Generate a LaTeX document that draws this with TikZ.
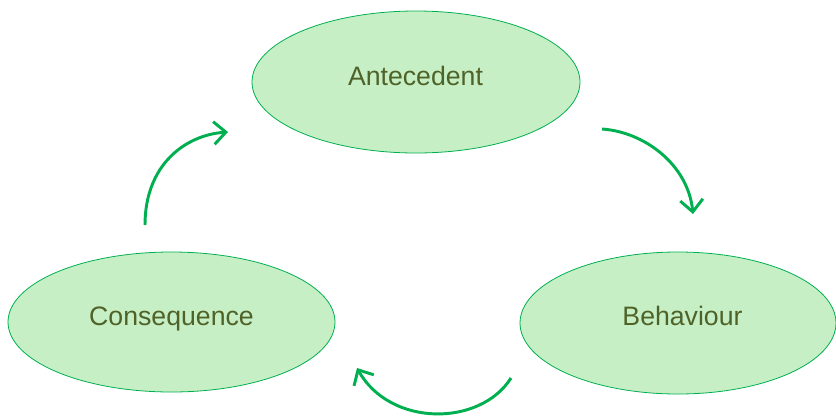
\documentclass[tikz,border=0pt]{standalone}
\usepackage{fontspec}
\setmainfont{Liberation Sans}
\usetikzlibrary{shapes.geometric,arrows.meta}
\definecolor{ellfill}{HTML}{C6EFC6}
\definecolor{ellline}{HTML}{00B050}
\definecolor{txtcol}{HTML}{4F6228}
\begin{document}
\begin{tikzpicture}[x=0.75pt,y=-0.75pt,
  bubble/.style={ellipse,draw=ellline,fill=ellfill,line width=0.6pt,inner sep=0pt},
  lbl/.style={anchor=base,text=txtcol,font=\fontsize{20}{24}\selectfont,inner sep=0pt},
  cyc/.style={draw=ellline,line width=2.2pt,-{Straight Barb[length=9pt,width=17pt,line width=2.2pt]}}]
\useasboundingbox (0,0) rectangle (836,415);
\node[bubble,minimum width=328*0.75pt,minimum height=142*0.75pt] (ant) at (416,82) {};
\node[bubble,minimum width=327*0.75pt,minimum height=140*0.75pt] (con) at (171.5,322) {};
\node[bubble,minimum width=316*0.75pt,minimum height=142*0.75pt] (beh) at (678,323) {};
\node[lbl] (tant) at (415.5,85.5) {Antecedent};
\node[lbl] (tcon) at (171.5,325.5) {Consequence};
\node[lbl] (tbeh) at (682.5,325.5) {Behaviour};
\coordinate (a1s) at (145,225);
\coordinate (a1e) at (228,132);
\coordinate (a2s) at (602,129);
\coordinate (a2e) at (693,214);
\coordinate (a3s) at (511,378);
\coordinate (a3e) at (357,368);
\draw[cyc] (a1s) .. controls (145,165) and (185,135) .. (a1e);
\draw[cyc] (a2s) .. controls (645,132) and (688,165) .. (a2e);
\draw[cyc] (a3s) .. controls (480,427) and (390,427) .. (a3e);
\end{tikzpicture}
\end{document}
